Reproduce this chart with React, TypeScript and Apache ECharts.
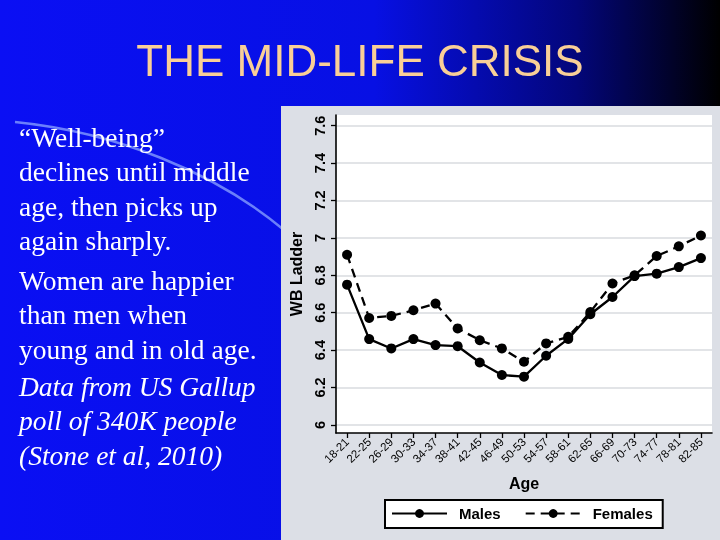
import React, { useEffect, useRef } from "react";
import * as echarts from "echarts";

const AGE_GROUPS = [
  "18-21", "22-25", "26-29", "30-33", "34-37", "38-41", "42-45", "46-49", "50-53",
  "54-57", "58-61", "62-65", "66-69", "70-73", "74-77", "78-81", "82-85",
];
const MALES = [
  6.75, 6.459, 6.409, 6.459, 6.427, 6.421, 6.334, 6.267, 6.258,
  6.37, 6.46, 6.592, 6.684, 6.796, 6.809, 6.844, 6.892,
];
const FEMALES = [
  6.91, 6.572, 6.583, 6.613, 6.649, 6.516, 6.453, 6.409, 6.338,
  6.436, 6.471, 6.604, 6.756, 6.8, 6.903, 6.955, 7.013,
];
const Y_TICKS = [6, 6.2, 6.4, 6.6, 6.8, 7, 7.2, 7.4, 7.6];

const TITLE = "THE MID-LIFE CRISIS";
const PARA1 = "\u201CWell-being\u201D\ndeclines until middle\nage, then picks up\nagain sharply.";
const PARA2 = "Women are happier\nthan men when\nyoung and in old age.";
const PARA3 = "Data from US Gallup\npoll of 340K people\n(Stone et al, 2010)";

const SANS = "'Liberation Sans', Arial, Helvetica, sans-serif";
const SERIF = "'Liberation Serif', 'Times New Roman', serif";

export default function App() {
  const ref = useRef<HTMLDivElement>(null);

  useEffect(() => {
    if (!ref.current) return;
    const chart = echarts.init(ref.current, null, { renderer: "svg" });
    const paraStyle = (italic: boolean) => ({
      fill: "#ffffff",
      font: `${italic ? "italic " : ""}27.5px ${SERIF}`,
      lineHeight: 34.5,
      textAlign: "left",
      textVerticalAlign: "top",
    });
    chart.setOption({
      animation: false,
      graphic: [
        {
          type: "rect",
          z: -10,
          shape: { x: 0, y: 0, width: 720, height: 540 },
          style: {
            fill: new echarts.graphic.LinearGradient(0, 0, 1, 0, [
              { offset: 0, color: "#0a0ff4" },
              { offset: 0.52, color: "#0710e4" },
              { offset: 0.8, color: "#03067a" },
              { offset: 1, color: "#000000" },
            ]),
          },
        },
        {
          type: "bezierCurve",
          z: -9,
          shape: { x1: 15, y1: 122, cpx1: 115, cpy1: 132, cpx2: 215, cpy2: 172, x2: 284, y2: 230 },
          style: { stroke: "rgba(140,165,255,0.75)", lineWidth: 2.5, fill: null },
        },
        {
          type: "rect",
          z: -8,
          shape: { x: 281, y: 106, width: 439, height: 434 },
          style: { fill: "#dcdfe6" },
        },
        {
          type: "text",
          z: 10,
          x: 360,
          y: 60,
          style: {
            text: TITLE,
            fill: "#f9cf97",
            font: `44px ${SANS}`,
            textAlign: "center",
            textVerticalAlign: "middle",
          },
        },
        { type: "text", z: 10, x: 19, y: 120, style: { text: PARA1, ...paraStyle(false) } },
        { type: "text", z: 10, x: 19, y: 263, style: { text: PARA2, ...paraStyle(false) } },
        { type: "text", z: 10, x: 19, y: 369, style: { text: PARA3, ...paraStyle(true) } },
      ],
      grid: {
        left: 336,
        right: 8,
        top: 115,
        bottom: 107,
        show: true,
        backgroundColor: "#ffffff",
        borderWidth: 0,
        containLabel: false,
      },
      legend: {
        left: 385,
        top: 500,
        orient: "horizontal",
        itemWidth: 55,
        itemHeight: 11,
        itemGap: 24,
        padding: [6, 10, 7, 6],
        backgroundColor: "#ffffff",
        borderColor: "#000000",
        borderWidth: 2,
        borderRadius: 0,
        textStyle: {
          fontSize: 15,
          fontWeight: "bold",
          color: "#000",
          fontFamily: SANS,
          padding: [0, 0, 0, 7],
        },
        data: ["Males", "Females"],
      },
      xAxis: {
        type: "category",
        data: AGE_GROUPS,
        boundaryGap: true,
        name: "Age",
        nameLocation: "middle",
        nameGap: 42,
        nameTextStyle: { fontSize: 16, fontWeight: "bold", color: "#000", fontFamily: SANS },
        axisLine: { show: true, lineStyle: { color: "#000", width: 1.6 } },
        axisTick: { show: true, alignWithLabel: true, length: 5, lineStyle: { color: "#000", width: 1.3 } },
        axisLabel: {
          rotate: 45,
          interval: 0,
          margin: 7,
          fontSize: 11.5,
          color: "#000",
          fontFamily: SANS,
        },
        splitLine: { show: false },
      },
      yAxis: {
        type: "value",
        min: 5.957,
        max: 7.657,
        name: "WB Ladder",
        nameLocation: "middle",
        nameRotate: 90,
        nameGap: 29,
        nameTextStyle: { fontSize: 16, fontWeight: "bold", color: "#000", fontFamily: SANS },
        axisLine: { show: true, lineStyle: { color: "#000", width: 1.6 } },
        axisTick: { show: true, length: 5, customValues: Y_TICKS, lineStyle: { color: "#000", width: 1.3 } },
        axisLabel: {
          customValues: Y_TICKS,
          rotate: 90,
          margin: 9,
          fontSize: 14.5,
          fontWeight: "bold",
          color: "#000",
          fontFamily: SANS,
          formatter: (v: number) => String(Math.round(v * 10) / 10),
        },
        splitLine: { show: true, lineStyle: { color: "#d9dbdf", width: 1.5 } },
      },
      series: [
        {
          name: "Males",
          type: "line",
          data: MALES,
          symbol: "circle",
          symbolSize: 10,
          showAllSymbol: true,
          itemStyle: { color: "#000" },
          lineStyle: { color: "#000", width: 2.3, type: "solid" },
          z: 3,
        },
        {
          name: "Females",
          type: "line",
          data: FEMALES,
          symbol: "circle",
          symbolSize: 10,
          showAllSymbol: true,
          itemStyle: { color: "#000" },
          lineStyle: { color: "#000", width: 2.3, type: [9, 6] },
          z: 3,
        },
      ],
    });
    return () => chart.dispose();
  }, []);

  return (
    <div
      ref={ref}
      style={{ position: "fixed", left: 0, top: 0, width: 720, height: 540 }}
    />
  );
}
